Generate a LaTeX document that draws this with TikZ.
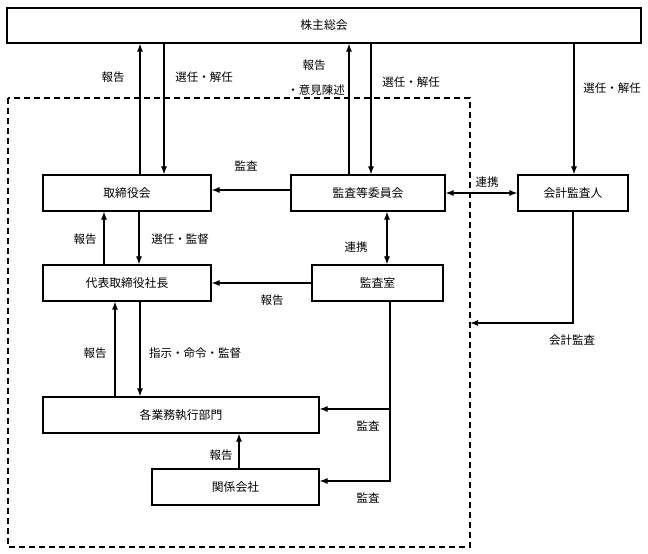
\documentclass[tikz,border=0pt]{standalone}
\usepackage{fontspec}
\setmainfont{Noto Sans CJK JP}
\usetikzlibrary{arrows.meta,positioning,calc}
\tikzstyle{block} = [
	draw,
	line width=1.2pt,
	minimum height=36pt,
	inner sep=0pt,
	font=\fontsize{11.8}{13}\selectfont
]
\tikzstyle{lbl} = [inner sep=1pt, font=\fontsize{11.5}{13}\selectfont]
\tikzstyle{line} = [line width=1.1pt]
\tikzstyle{dashbox} = [line width=1.3pt, dash pattern=on 6pt off 4pt]

\begin{document}
\begin{tikzpicture}[x=1pt, y=-1pt, >={Latex[length=8pt,width=6pt]}]
	\useasboundingbox (0,0) rectangle (648,554);
	\node[block, minimum width=634pt, minimum height=35pt] (gm) at (324,25.5) {株主総会};
	\node[block, minimum width=168pt] (board) at (127,193) {取締役会};
	\node[block, minimum width=154pt] (auditcom) at (368,193) {監査等委員会};
	\node[block, minimum width=110pt] (accaud) at (573,193) {会計監査人};
	\node[block, minimum width=168pt] (ceo) at (127,283) {代表取締役社長};
	\node[block, minimum width=131pt] (auditoff) at (377.5,283) {監査室};
	\node[block, minimum width=276pt] (divs) at (181,415) {各業務執行部門};
	\node[block, minimum width=167pt] (affil) at (235.5,487) {関係会社};
	\coordinate (dashE) at (470,323);

	\draw[dashbox] (8,98) rectangle (470,547);

	% shareholders meeting
	\draw[line,->] ([xshift=13]board.north) -- ([xshift=13]board.north |- gm.south);
	\draw[line,<-] ([xshift=37]board.north) -- ([xshift=37]board.north |- gm.south);
	\draw[line,->] ([xshift=-19]auditcom.north) -- ([xshift=-19]auditcom.north |- gm.south);
	\draw[line,<-] ([xshift=3]auditcom.north) -- ([xshift=3]auditcom.north |- gm.south);
	\draw[line,<-] ([xshift=1]accaud.north) -- ([xshift=1]accaud.north |- gm.south);
	\node[lbl] (l1) at (113,77) {報告};
	\node[lbl] (l2) at (204,77) {選任・解任};
	\node[lbl] (l3) at (314,65) {報告};
	\node[lbl] (l4) at (316,90) {・意見陳述};
	\node[lbl] (l5) at (411,82) {選任・解任};
	\node[lbl] (l6) at (612,88) {選任・解任};

	% board level
	\draw[line,->] ([yshift=3]auditcom.west) -- ([yshift=3]board.east);
	\draw[line,<->] (auditcom.east) -- (accaud.west);
	\node[lbl] (l7) at (246,166) {監査};
	\node[lbl] (l8) at (487,182) {連携};

	\draw[line,->] ([xshift=-23]ceo.north) -- ([xshift=-23]board.south);
	\draw[line,->] ([xshift=12]board.south) -- ([xshift=12]ceo.north);
	\draw[line,<->] ([xshift=19]auditcom.south) -- ([xshift=19]auditcom.south |- auditoff.north);
	\node[lbl] (l9) at (85,239) {報告};
	\node[lbl] (l10) at (180,239) {選任・監督};
	\node[lbl] (l11) at (356,247) {連携};

	\draw[line,->] (auditoff.west) -- (ceo.east);
	\node[lbl] (l12) at (272,300) {報告};
	\draw[line,->] (accaud.south) |- (dashE);
	\node[lbl] (l13) at (572,340) {会計監査};

	% executive side
	\draw[line,->] ([xshift=-12]ceo.south |- divs.north) -- ([xshift=-12]ceo.south);
	\draw[line,->] ([xshift=13]ceo.south) -- ([xshift=13]ceo.south |- divs.north);
	\node[lbl] (l14) at (95,353) {報告};
	\node[lbl] (l15) at (195,353) {指示・命令・監督};

	\draw[line,->] ([xshift=12.5]auditoff.south) |- ([yshift=6]affil.east);
	\draw[line,->] ([xshift=12.5]auditoff.south |- divs.east) ++(0,-6) -- ([yshift=6]divs.east);
	\draw[line,->] ([xshift=3.5]affil.north) -- ([xshift=3.5]affil.north |- divs.south);
	\node[lbl] (l16) at (368,426) {監査};
	\node[lbl] (l17) at (368,498) {監査};
	\node[lbl] (l18) at (221,455) {報告};
\end{tikzpicture}
\end{document}
